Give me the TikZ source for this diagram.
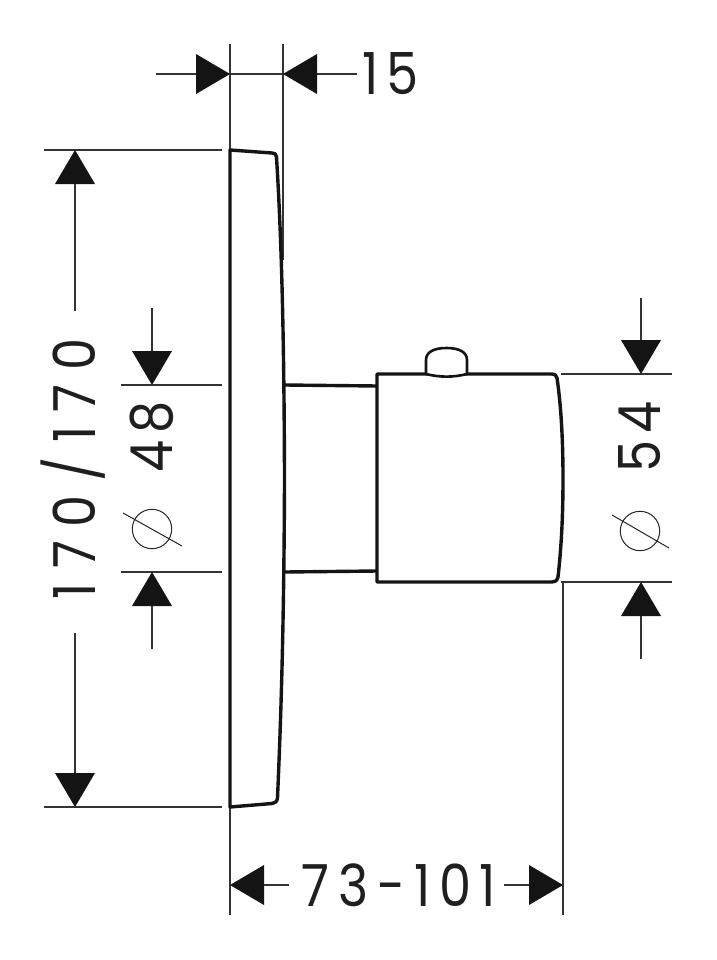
\documentclass[tikz,border=0pt]{standalone}
\usepackage{fontspec}
\newfontfamily\dimfont[LetterSpace=13,FakeStretch=0.88]{Poppins}
\newfontfamily\widefont[LetterSpace=24,FakeStretch=0.88]{Poppins}
\newfontfamily\longfont[LetterSpace=15,FakeStretch=0.88]{Poppins}
\tikzset{
  thinline/.style={draw=black!80,line width=1.1pt},
  outline/.style={draw=black!92,line width=3.4pt,line join=round},
  knobline/.style={draw=black!92,line width=2.6pt,line join=round},
  headfill/.style={fill=black!92},
  dimtext/.style={inner sep=0pt,text=black!88,font=\dimfont\fontsize{58}{58}\selectfont},
  widetext/.style={inner sep=0pt,text=black!88,font=\widefont\fontsize{58}{58}\selectfont},
  longtext/.style={inner sep=0pt,text=black!88,font=\longfont\fontsize{58}{58}\selectfont},
  dia/.style={draw=black!85,line width=1pt}
}
\begin{document}
\begin{tikzpicture}[x=1pt,y=-1pt]
\useasboundingbox (0,0) rectangle (716,960);
\fill[white] (0,0) rectangle (716,960);
% extension lines
\draw[thinline] (230,44) -- (230,150);
\draw[thinline] (283,44) -- (283,260);
\draw[thinline] (230,807) -- (230,915);
\draw[thinline] (563,582) -- (563,915);
\draw[thinline] (44,150) -- (222,150);
\draw[thinline] (44,807) -- (222,807);
\draw[thinline] (121,385) -- (222,385);
\draw[thinline] (121,572) -- (222,572);
\draw[thinline] (561,374) -- (672,374);
\draw[thinline] (561,582) -- (672,582);
% plate
\draw[outline] (230,807) -- (230,150) -- (272,153) .. controls (275,153) and (276,154) .. (276.5,157)
  .. controls (280,215) and (284,300) .. (284.5,478)
  .. controls (284,650) and (279.5,750) .. (277.5,798)
  .. controls (277,802) and (275,803) .. (272,803.5) -- cycle;
% stem
\draw[outline] (285,385) -- (377,386);
\draw[outline] (285,572) -- (377,571);
% body
\draw[outline] (377,374) -- (552,374) .. controls (555,374) and (556,375) .. (557,378)
  .. controls (561,405) and (563,440) .. (563,478)
  .. controls (563,520) and (561,550) .. (558,577)
  .. controls (557,581) and (555,582) .. (552,582) -- (377,582) -- cycle;
% knob
\draw[knobline,fill=white] (426,374) -- (426,360) .. controls (426,352) and (434,348) .. (446.5,348)
  .. controls (459,348) and (467,352) .. (467,360) -- (467,374)
  .. controls (453,377.5) and (440,377.5) .. (426,374);
% dimension 15
\draw[thinline] (156,74) -- (357,74);
\fill[headfill] (230,74) -- (196,54) -- (196,94) -- cycle;
\fill[headfill] (283,74) -- (317,54) -- (317,94) -- cycle;
\node[dimtext,anchor=base west] (d15) at (362,95) {15};
% dimension 170/170
\draw[thinline] (75,183) -- (75,311);
\draw[thinline] (75,633) -- (75,775);
\fill[headfill] (75,150) -- (55,184) -- (95,184) -- cycle;
\fill[headfill] (75,807) -- (55,773) -- (95,773) -- cycle;
\node[widetext,rotate=90,anchor=base] (d170) at (95,469) {170/170};
% dimension 48
\draw[thinline] (152,308) -- (152,352);
\draw[thinline] (152,605) -- (152,649);
\fill[headfill] (152,385) -- (132,351) -- (172,351) -- cycle;
\fill[headfill] (152,572) -- (132,606) -- (172,606) -- cycle;
\node[dimtext,rotate=90,anchor=base] (d48) at (172,437) {48};
\draw[dia] (152,529) circle (19.7);
\draw[dia] (123,513) -- (182,546);
% dimension 54
\draw[thinline] (641,298) -- (641,341);
\draw[thinline] (641,615) -- (641,659);
\fill[headfill] (641,374) -- (621,340) -- (661,340) -- cycle;
\fill[headfill] (641,582) -- (621,616) -- (661,616) -- cycle;
\node[dimtext,rotate=90,anchor=base] (d54) at (660,437) {54};
\draw[dia] (640,531) circle (19.7);
\draw[dia] (612,515) -- (669,548);
% dimension 73-101
\draw[thinline] (264,885) -- (289,885);
\draw[thinline] (504,885) -- (530,885);
\fill[headfill] (230,885) -- (264,865) -- (264,905) -- cycle;
\fill[headfill] (563,885) -- (529,865) -- (529,905) -- cycle;
\node[longtext,anchor=base] (d73) at (399,906) {73-101};
\end{tikzpicture}
\end{document}
